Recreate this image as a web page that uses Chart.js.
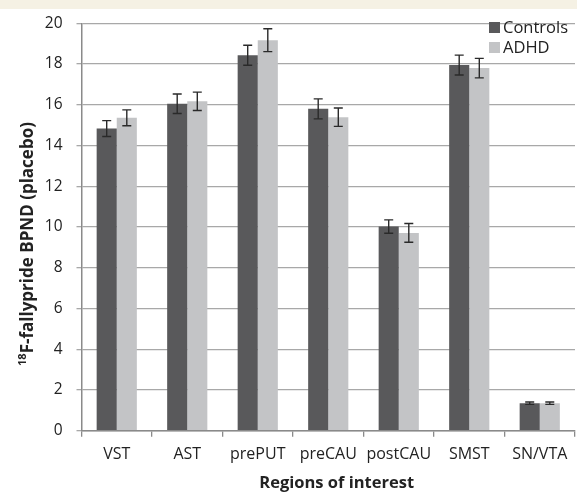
<!DOCTYPE html>
<html>
<head>
<meta charset="utf-8">
<script src="https://cdn.jsdelivr.net/npm/chart.js@4.4.1/dist/chart.umd.min.js"></script>
<style>
  body { margin: 0; background: #fff; }
  #wrap { position: relative; width: 577px; height: 495px; }
</style>
</head>
<body>
<div id="wrap"><canvas id="myChart"></canvas></div>
<script>
// data
const regions = ['VST', 'AST', 'prePUT', 'preCAU', 'postCAU', 'SMST', 'SN/VTA'];
const controls = [14.83, 16.05, 18.43, 15.80, 10.02, 17.95, 1.35];
const adhd = [15.36, 16.17, 19.17, 15.39, 9.71, 17.80, 1.35];
const controlsErr = [0.39, 0.48, 0.49, 0.49, 0.33, 0.49, 0.06];
const adhdErr = [0.39, 0.45, 0.56, 0.45, 0.46, 0.48, 0.06];
const yTicks = [0, 2, 4, 6, 8, 10, 12, 14, 16, 18, 20];

const FONT = '"Open Sans", sans-serif';
const TEXT = '#222';
const GRID = '#a8a8a8';
const AXIS = '#8a8a8a';

// white page with the beige strip on top
const background = {
    id: 'background',
    beforeDraw(chart) {
        const c = chart.ctx;
        c.save();
        c.fillStyle = '#fff';
        c.fillRect(0, 0, chart.width, chart.height);
        c.fillStyle = '#f5f1e4';
        c.fillRect(0, 0, chart.width, 9);
        c.restore();
    }
};

// error bars on top of each bar
const errorBars = {
    id: 'errorBars',
    afterDatasetsDraw(chart) {
        const c = chart.ctx;
        const y = chart.scales.y;
        c.save();
        c.strokeStyle = '#2a2a2a';
        c.lineWidth = 1.4;
        chart.data.datasets.forEach((ds, di) => {
            const meta = chart.getDatasetMeta(di);
            meta.data.forEach((bar, i) => {
                const v = ds.data[i], e = ds.errors[i];
                const top = y.getPixelForValue(v + e);
                const bot = y.getPixelForValue(v - e);
                const x = bar.x;
                c.beginPath();
                c.moveTo(x, top); c.lineTo(x, bot);
                c.moveTo(x - 4.5, top); c.lineTo(x + 4.5, top);
                c.moveTo(x - 4.5, bot); c.lineTo(x + 4.5, bot);
                c.stroke();
            });
        });
        c.restore();
    }
};

// legend in the top right corner of the plot
const cornerLegend = {
    id: 'cornerLegend',
    afterDraw(chart) {
        const c = chart.ctx;
        c.save();
        c.font = '16.5px ' + FONT;
        c.textBaseline = 'alphabetic';
        chart.data.datasets.forEach((ds, i) => {
            const top = 22 + i * 20;
            c.fillStyle = ds.backgroundColor;
            c.fillRect(489, top, 11, 11);
            c.fillStyle = TEXT;
            c.fillText(ds.label, 503, top + 11.3);
        });
        c.restore();
    }
};

// axis titles (y one has a superscript 18)
const axisTitles = {
    id: 'axisTitles',
    afterDraw(chart) {
        const c = chart.ctx;
        c.save();
        c.fillStyle = TEXT;
        c.textBaseline = 'alphabetic';
        c.textAlign = 'center';
        c.font = 'bold 16.5px ' + FONT;
        c.fillText('Regions of interest', 336.7, 488.3);

        const sup = '18';
        const main = 'F-fallypride BPND (placebo)';
        c.translate(27, 244);
        c.rotate(-Math.PI / 2);
        c.textAlign = 'left';
        c.textBaseline = 'middle';
        c.font = 'bold 11px ' + FONT;
        const ws = c.measureText(sup).width;
        c.font = 'bold 17px ' + FONT;
        const wm = c.measureText(main).width;
        const start = -(ws + wm) / 2;
        c.fillText(main, start + ws, 1);
        c.font = 'bold 11px ' + FONT;
        c.fillText(sup, start, -4.5);
        c.restore();
    }
};

const ctx = document.getElementById('myChart').getContext('2d');

const chart = new Chart(ctx, {
    type: 'bar',
    data: {
        labels: regions,
        datasets: [{
            label: 'Controls',
            data: controls,
            errors: controlsErr,
            backgroundColor: '#59595b',
            categoryPercentage: 0.57,
            barPercentage: 1
        }, {
            label: 'ADHD',
            data: adhd,
            errors: adhdErr,
            backgroundColor: '#c3c4c6',
            categoryPercentage: 0.57,
            barPercentage: 1
        }]
    },
    options: {
        responsive: true,
        maintainAspectRatio: false,
        animation: false,
        layout: {
            padding: { top: 14.7, right: 2, left: 0, bottom: 0 }
        },
        scales: {
            x: {
                grid: {
                    offset: true,
                    drawOnChartArea: false,
                    drawTicks: true,
                    tickLength: 6,
                    color: AXIS,
                    lineWidth: 1.3
                },
                border: { color: AXIS, width: 1.5 },
                ticks: {
                    color: TEXT,
                    padding: 8,
                    maxRotation: 0,
                    minRotation: 0,
                    autoSkip: false,
                    font: { family: FONT, size: 16 }
                },
                afterFit(scale) { scale.height = 64.3; }
            },
            y: {
                min: 0,
                max: 20,
                afterBuildTicks(scale) {
                    scale.ticks = yTicks.map(v => ({ value: v }));
                },
                grid: {
                    color: GRID,
                    lineWidth: 1.3,
                    tickLength: 5
                },
                border: { color: AXIS, width: 1.5 },
                ticks: {
                    color: TEXT,
                    padding: 14,
                    font: { family: FONT, size: 15.5 }
                },
                afterFit(scale) { scale.width = 81.5; }
            }
        },
        plugins: {
            legend: { display: false },
            tooltip: { enabled: false }
        }
    },
    plugins: [background, errorBars, cornerLegend, axisTitles]
});
</script>
</body>
</html>
